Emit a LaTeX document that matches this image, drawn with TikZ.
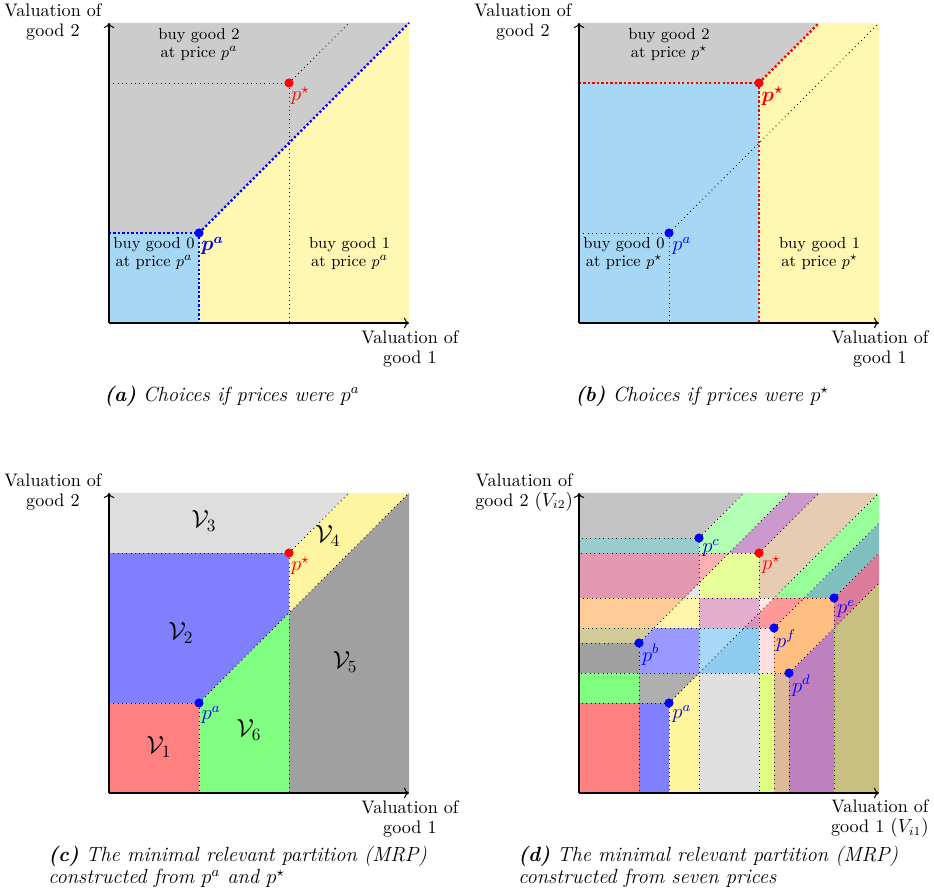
\documentclass[tikz,border=0pt]{standalone}
\usepackage{fontspec}
\usepackage{bm}
\usetikzlibrary{arrows.meta}
\definecolor{agray}{HTML}{CCCCCC}
\definecolor{ablue}{HTML}{A6D8F6}
\definecolor{ayellow}{HTML}{FFF7B2}
\definecolor{cred}{HTML}{FF8080}
\definecolor{cblue}{HTML}{8080FF}
\definecolor{clgray}{HTML}{DEDEDE}
\definecolor{cyellow}{HTML}{FFF5A0}
\definecolor{cdgray}{HTML}{A0A0A0}
\definecolor{cgreen}{HTML}{80FF80}
\definecolor{dred}{HTML}{FF8080}
\definecolor{dblue}{HTML}{8080FF}
\definecolor{dyellow}{HTML}{FFF59D}
\definecolor{dlgray}{HTML}{DFDFDF}
\definecolor{dygreen}{HTML}{E0FF80}
\definecolor{dtan}{HTML}{DDBB99}
\definecolor{dpurple}{HTML}{BF80BF}
\definecolor{dolive}{HTML}{C8C080}
\definecolor{dgreen}{HTML}{80FF80}
\definecolor{dmgray}{HTML}{AFAFAF}
\definecolor{ddgray}{HTML}{A0A0A0}
\definecolor{dbviolet}{HTML}{9999FF}
\definecolor{dlblueA}{HTML}{A8D8F8}
\definecolor{dlblueB}{HTML}{90CCF0}
\definecolor{dppink}{HTML}{FFDDE0}
\definecolor{dorange}{HTML}{FFBF80}
\definecolor{dkhaki}{HTML}{D3CC98}
\definecolor{dpeach}{HTML}{FFCC99}
\definecolor{dpyellow}{HTML}{FFF5AA}
\definecolor{dmauve}{HTML}{E3AECC}
\definecolor{ddmauve}{HTML}{DA94BC}
\definecolor{dsalmon}{HTML}{FF9999}
\definecolor{dpaletri}{HTML}{FFE8E8}
\definecolor{dpinkR}{HTML}{DD7B9B}
\definecolor{dteal}{HTML}{80BFBF}
\definecolor{dlgreenR}{HTML}{99FF99}
\definecolor{dtanbig}{HTML}{E6CCB3}
\definecolor{dygreenbig}{HTML}{E6FF99}
\definecolor{dpinktri}{HTML}{FFB0B0}
\definecolor{dlgraytri}{HTML}{E6E6E6}
\definecolor{dpinkmauve}{HTML}{E397B0}
\definecolor{dtealL}{HTML}{99CCCC}
\definecolor{dgrayTop}{HTML}{C4C4C4}
\definecolor{dlgreenT}{HTML}{B3FFB3}
\definecolor{dpurpleS}{HTML}{CC99CC}
\newcommand\mycapfont{\fontsize{11.9}{13}\selectfont\itshape}
\begin{document}
\begin{tikzpicture}[x=0.6113cm,y=0.6113cm,
  dotl/.style={dotted, line width=0.5pt},
  bdot/.style={line width=1.35pt, dash pattern=on 1.3pt off 1.3pt},
  ptdot/.style={circle, fill, inner sep=0pt, minimum size=5.3pt},
  axisline/.style={->, line width=0.6pt},
  axlab/.style={align=center, inner sep=0pt, font=\fontsize{10.5}{11.2}\selectfont},
  buylab/.style={align=center, font=\fontsize{9.3}{10.8}\selectfont, inner sep=0pt},
  plab/.style={inner sep=0pt, font=\fontsize{11.5}{13}\selectfont},
  vlab/.style={inner sep=0pt, font=\fontsize{14.5}{17}\selectfont},
  caplab/.style={inner sep=0pt, font=\mycapfont},
  caplabl/.style={inner sep=0pt, font=\mycapfont, align=left, anchor=west}]
\useasboundingbox (-3.6333,-18.9667) rectangle (27.5,10.7667);
\fill[white] (-3.6333,-18.9667) rectangle (27.5,10.7667);

% ---------------- panel (a)
\begin{scope}
  \fill[agray] (0,3) -- (3,3) -- (10,10) -- (0,10) -- cycle;
  \fill[ablue] (0,0) rectangle (3,3);
  \fill[ayellow] (3,0) -- (10,0) -- (10,10) -- (3,3) -- cycle;
  \draw[dotl] (0,8) -- (6,8) -- (6,0);
  \draw[dotl] (6,8) -- (8,10);
  \draw[bdot, blue] (0,3) -- (3,3) -- (3,0);
  \draw[bdot, blue] (3,3) -- (10,10);
  \draw[axisline] (0,0) -- (10,0);
  \draw[axisline] (0,0) -- (0,10);
  \node[ptdot, blue] (a-pa) at (3,3) {};
  \node[ptdot, red] (a-ps) at (6,8) {};
  \node[plab, blue] (a-lpa) at (3.45,2.57) {$\bm{p^a}$};
  \node[plab, red] (a-lps) at (6.38,7.57) {$p^\star$};
  \node[buylab] (a-b2) at (3.0,9.28) {buy good 2\\at price $p^a$};
  \node[buylab] (a-b0) at (1.5,2.32) {buy good 0\\at price $p^a$};
  \node[buylab] (a-b1) at (8.02,2.32) {buy good 1\\at price $p^a$};
  \node[axlab] (a-ylab) at (-1.87,10.03) {Valuation of\\good 2};
  \node[axlab] (a-xlab) at (10.03,-0.87) {Valuation of\\good 1};
  \node[caplab] (a-cap) at (4.1,-2.43) {\textbf{(a)} Choices if prices were $p^a$};
\end{scope}

% ---------------- panel (b)
\begin{scope}[shift={(15.6667,0)}]
  \fill[agray] (0,8) -- (6,8) -- (8,10) -- (0,10) -- cycle;
  \fill[ablue] (0,0) rectangle (6,8);
  \fill[ayellow] (6,0) -- (10,0) -- (10,10) -- (8,10) -- (6,8) -- cycle;
  \draw[dotl] (0,3) -- (3,3) -- (3,0);
  \draw[dotl] (3,3) -- (10,10);
  \draw[bdot, red] (0,8) -- (6,8) -- (6,0);
  \draw[bdot, red] (6,8) -- (8,10);
  \draw[axisline] (0,0) -- (10,0);
  \draw[axisline] (0,0) -- (0,10);
  \node[ptdot, blue] (b-pa) at (3,3) {};
  \node[ptdot, red] (b-ps) at (6,8) {};
  \node[plab, blue] (b-lpa) at (3.43,2.56) {$p^a$};
  \node[plab, red] (b-lps) at (6.45,7.55) {$\bm{p^\star}$};
  \node[buylab] (b-b2) at (3.0,9.28) {buy good 2\\at price $p^\star$};
  \node[buylab] (b-b0) at (1.5,2.32) {buy good 0\\at price $p^\star$};
  \node[buylab] (b-b1) at (8.02,2.32) {buy good 1\\at price $p^\star$};
  \node[axlab] (b-ylab) at (-1.87,10.03) {Valuation of\\good 2};
  \node[axlab] (b-xlab) at (10.03,-0.87) {Valuation of\\good 1};
  \node[caplab] (b-cap) at (4.1,-2.43) {\textbf{(b)} Choices if prices were $p^\star$};
\end{scope}

% ---------------- panel (c)
\begin{scope}[shift={(0,-15.6667)}]
  \fill[cred] (0,0) rectangle (3,3);
  \fill[cblue] (0,3) -- (3,3) -- (6,6) -- (6,8) -- (0,8) -- cycle;
  \fill[clgray] (0,8) -- (6,8) -- (8,10) -- (0,10) -- cycle;
  \fill[cyellow] (6,6) -- (6,8) -- (8,10) -- (10,10) -- cycle;
  \fill[cdgray] (6,0) -- (10,0) -- (10,10) -- (6,6) -- cycle;
  \fill[cgreen] (3,0) -- (6,0) -- (6,6) -- (3,3) -- cycle;
  \draw[dotl] (0,3) -- (3,3) -- (3,0);
  \draw[dotl] (3,3) -- (10,10);
  \draw[dotl] (0,8) -- (6,8) -- (6,0);
  \draw[dotl] (6,8) -- (8,10);
  \draw[axisline] (0,0) -- (10,0);
  \draw[axisline] (0,0) -- (0,10);
  \node[ptdot, blue] (c-pa) at (3,3) {};
  \node[ptdot, red] (c-ps) at (6,8) {};
  \node[plab, blue] (c-lpa) at (3.4,2.6) {$p^a$};
  \node[plab, red] (c-lps) at (6.38,7.58) {$p^\star$};
  \node[vlab] (c-v1) at (1.67,1.53) {$\mathcal{V}_1$};
  \node[vlab] (c-v2) at (2.4,5.33) {$\mathcal{V}_2$};
  \node[vlab] (c-v3) at (3.17,9.07) {$\mathcal{V}_3$};
  \node[vlab] (c-v4) at (7.3,8.57) {$\mathcal{V}_4$};
  \node[vlab] (c-v5) at (7.87,4.37) {$\mathcal{V}_5$};
  \node[vlab] (c-v6) at (4.67,2.1) {$\mathcal{V}_6$};
  \node[axlab] (c-ylab) at (-1.87,10.03) {Valuation of\\good 2};
  \node[axlab] (c-xlab) at (10.03,-0.87) {Valuation of\\good 1};
  \node[caplabl] (c-cap) at (-2.03,-2.47) {\textbf{(c)} The minimal relevant partition (MRP)\\constructed from $p^a$ and $p^\star$};
\end{scope}

% ---------------- panel (d)
\begin{scope}[shift={(15.6667,-15.6667)}]
  \fill[dred] (0,0) rectangle (2,3);
  \fill[dblue] (2,0) rectangle (3,3);
  \fill[dyellow] (3,0) -- (4,0) -- (4,4) -- (3,3) -- cycle;
  \fill[dlgray] (4,0) rectangle (6,4);
  \fill[dygreen] (6,0) rectangle (6.5,4);
  \fill[dtan] (6.5,0) rectangle (7,4);
  \fill[dpurple] (7,0) -- (8.5,0) -- (8.5,5.5) -- (7,4) -- cycle;
  \fill[dolive] (8.5,0) -- (10,0) -- (10,7) -- (8.5,5.5) -- cycle;
  \fill[dgreen] (0,3) rectangle (2,4);
  \fill[dmgray] (2,3) -- (3,3) -- (4,4) -- (2,4) -- cycle;
  \fill[ddgray] (0,4) rectangle (2,5);
  \fill[dbviolet] (2,4) -- (4,4) -- (4,5.5) -- (2.5,5.5) -- (2,5) -- cycle;
  \fill[dlblueA] (4,4) -- (5.5,5.5) -- (4,5.5) -- cycle;
  \fill[dlblueB] (4,4) -- (6,4) -- (6,5.5) -- (5.5,5.5) -- cycle;
  \fill[dppink] (6,4) rectangle (6.5,5.5);
  \fill[dorange] (6.5,4) -- (7,4) -- (8.5,5.5) -- (8.5,6.5) -- (7.5,6.5) -- (6.5,5.5) -- cycle;
  \fill[dkhaki] (0,5) -- (2,5) -- (2.5,5.5) -- (0,5.5) -- cycle;
  \fill[dpeach] (0,5.5) -- (2.5,5.5) -- (3.5,6.5) -- (0,6.5) -- cycle;
  \fill[dpyellow] (2.5,5.5) -- (4,5.5) -- (4,6.5) -- (3.5,6.5) -- cycle;
  \fill[dmauve] (4,5.5) -- (5.5,5.5) -- (6,6) -- (6,6.5) -- (4,6.5) -- cycle;
  \fill[ddmauve] (5.5,5.5) -- (6,5.5) -- (6,6) -- cycle;
  \fill[dsalmon] (6,5.5) -- (6.5,5.5) -- (7.5,6.5) -- (6.5,6.5) -- (6,6) -- cycle;
  \fill[dpaletri] (6,6) -- (6.5,6.5) -- (6,6.5) -- cycle;
  \fill[dpinkR] (8.5,5.5) -- (10,7) -- (10,8) -- (8.5,6.5) -- cycle;
  \fill[dteal] (7.5,6.5) -- (8.5,6.5) -- (10,8) -- (10,9) -- cycle;
  \fill[dlgreenR] (6.5,6.5) -- (7.5,6.5) -- (10,9) -- (10,10) -- cycle;
  \fill[dtanbig] (6,6.5) -- (6.5,6.5) -- (10,10) -- (8,10) -- (6,8) -- cycle;
  \fill[dygreenbig] (4,6.5) -- (6,6.5) -- (6,8) -- (5,8) -- (4,7) -- cycle;
  \fill[dpinktri] (4,7) -- (5,8) -- (4,8) -- cycle;
  \fill[dlgraytri] (3.5,6.5) -- (4,6.5) -- (4,7) -- cycle;
  \fill[dpinkmauve] (0,6.5) -- (3.5,6.5) -- (4,7) -- (4,8) -- (0,8) -- cycle;
  \fill[dtealL] (0,8) rectangle (4,8.5);
  \fill[dgrayTop] (0,8.5) -- (4,8.5) -- (5.5,10) -- (0,10) -- cycle;
  \fill[dlgreenT] (4,8) -- (5,8) -- (7,10) -- (5.5,10) -- (4,8.5) -- cycle;
  \fill[dpurpleS] (5,8) -- (6,8) -- (8,10) -- (7,10) -- cycle;
  % price points
  \coordinate (d-a) at (3,3);
  \coordinate (d-b) at (2,5);
  \coordinate (d-c) at (4,8.5);
  \coordinate (d-s) at (6,8);
  \coordinate (d-e) at (8.5,6.5);
  \coordinate (d-f) at (6.5,5.5);
  \coordinate (d-d) at (7,4);
  \foreach \p in {a,b,c,s,e,f,d}{
    \draw[dotl] (d-\p) -- (d-\p |- 0,0);
    \draw[dotl] (d-\p) -- (0,0 |- d-\p);
  }
  \draw[dotl] (d-a) -- (10,10);
  \draw[dotl] (d-b) -- (7,10);
  \draw[dotl] (d-c) -- (5.5,10);
  \draw[dotl] (d-s) -- (8,10);
  \draw[dotl] (d-e) -- (10,8);
  \draw[dotl] (d-f) -- (10,9);
  \draw[dotl] (d-d) -- (10,7);
  \draw[axisline] (0,0) -- (10,0);
  \draw[axisline] (0,0) -- (0,10);
  \node[ptdot, blue] (d-pa) at (d-a) {};
  \node[ptdot, blue] (d-pb) at (d-b) {};
  \node[ptdot, blue] (d-pc) at (d-c) {};
  \node[ptdot, red] (d-ps) at (d-s) {};
  \node[ptdot, blue] (d-pe) at (d-e) {};
  \node[ptdot, blue] (d-pf) at (d-f) {};
  \node[ptdot, blue] (d-pd) at (d-d) {};
  \node[plab, blue] (d-lpa) at (3.43,2.63) {$p^a$};
  \node[plab, blue] (d-lpb) at (2.39,4.61) {$p^b$};
  \node[plab, blue] (d-lpc) at (4.4,8.17) {$p^c$};
  \node[plab, red] (d-lps) at (6.41,7.6) {$p^\star$};
  \node[plab, blue] (d-lpe) at (8.9,6.13) {$p^e$};
  \node[plab, blue] (d-lpf) at (6.9,5.08) {$p^f$};
  \node[plab, blue] (d-lpd) at (7.41,3.58) {$p^d$};
  \node[axlab] (d-ylab) at (-1.83,10.02) {Valuation of\\good 2 $(V_{i2})$};
  \node[axlab] (d-xlab) at (10.03,-0.85) {Valuation of\\good 1 $(V_{i1})$};
  \node[caplabl] (d-cap) at (-2.03,-2.47) {\textbf{(d)} The minimal relevant partition (MRP)\\constructed from seven prices};
\end{scope}
\end{tikzpicture}
\end{document}
